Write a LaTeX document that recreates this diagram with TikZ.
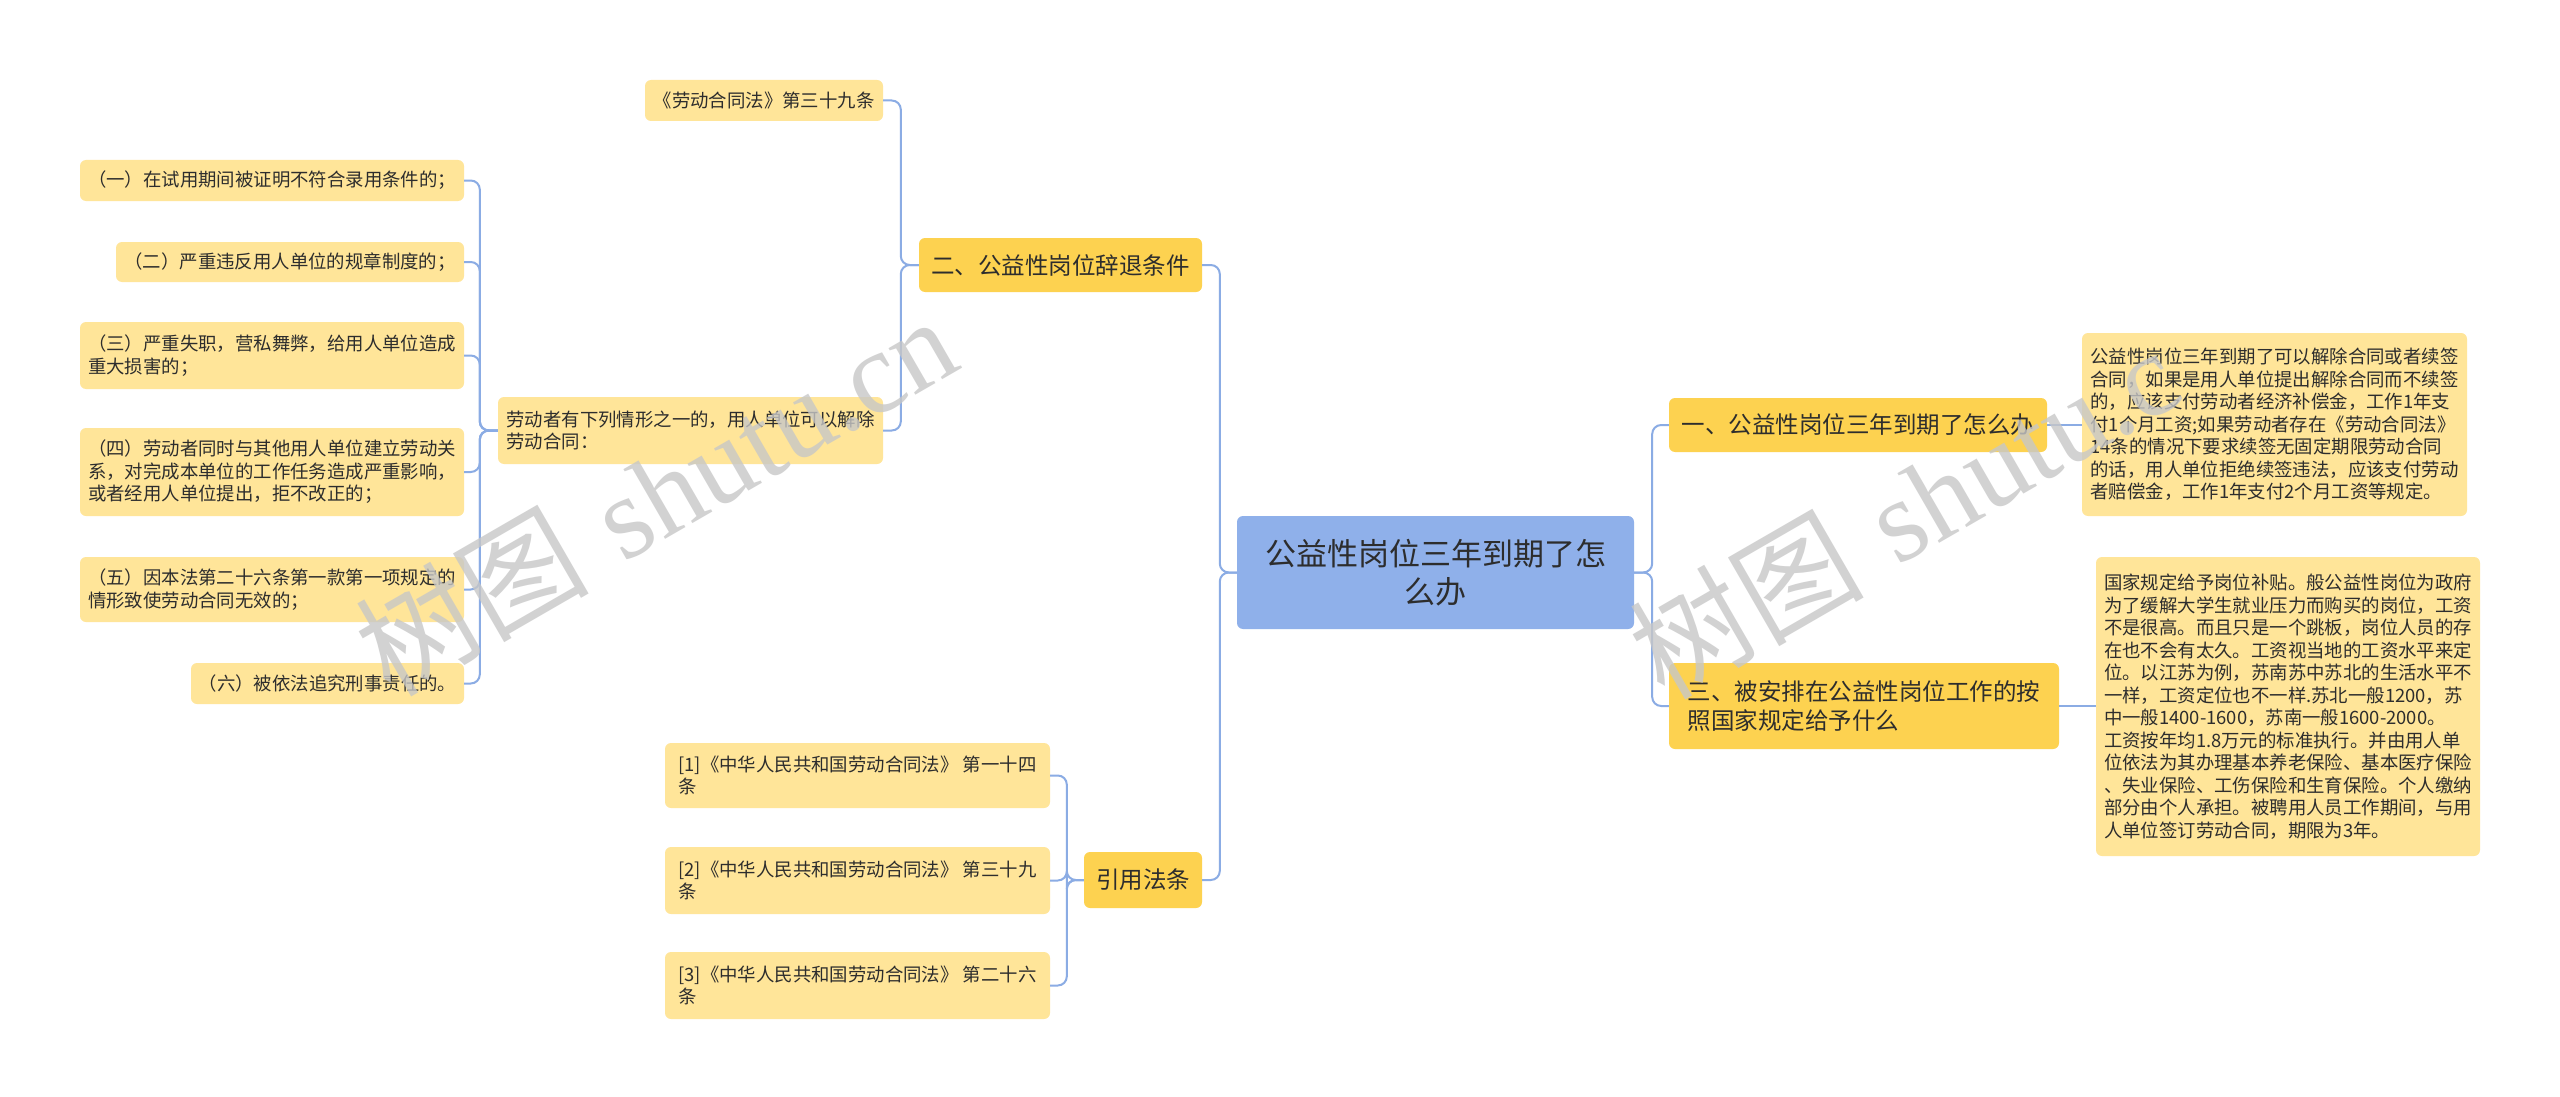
\documentclass[tikz,border=0pt]{standalone}
\usepackage{fontspec}
\newfontfamily\cjk{Noto Sans CJK SC}
\newfontfamily\wmserif{Liberation Serif}
\definecolor{hubblue}{RGB}{143,176,234}
\definecolor{topicyellow}{RGB}{253,210,80}
\definecolor{leafyellow}{RGB}{255,229,153}
\definecolor{linkblue}{RGB}{139,172,228}
\definecolor{inkgray}{RGB}{45,45,45}
\tikzset{
	hub/.style={fill=hubblue, rounded corners=6pt, align=center, inner sep=0pt, text=inkgray, font=\cjk\fontsize{31}{38}\selectfont},
	topic/.style={fill=topicyellow, rounded corners=6pt, align=left, inner sep=0pt, text=inkgray, font=\cjk\fontsize{23.5}{29}\selectfont},
	leaf/.style={fill=leafyellow, rounded corners=6pt, align=left, inner sep=0pt, text=inkgray, font=\cjk\fontsize{18.4}{22.5}\selectfont},
	link/.style={draw=linkblue, line width=2pt, rounded corners=9pt},
	wmtext/.style={text=black!22, text opacity=0.8, rotate=30, inner sep=0pt, font=\fontsize{117}{117}\selectfont}
}

\begin{document}
\begin{tikzpicture}[x=1pt,y=-1pt]
	\useasboundingbox (0,0) rectangle (2560,1097);
		\fill[white] (0,0) rectangle (2560,1097);
		\node[hub, minimum width=397pt, minimum height=113pt] (hub) at (1435.5,572.5) {公益性岗位三年到期了怎\\么办};
		\node[topic, minimum width=283pt, minimum height=54pt] (quit) at (1060.5,265) {二、公益性岗位辞退条件};
		\node[topic, minimum width=118pt, minimum height=56pt] (cite) at (1143,880) {引用法条};
		\node[topic, minimum width=378pt, minimum height=54pt] (due) at (1858,425) {一、公益性岗位三年到期了怎么办};
		\node[topic, minimum width=390pt, minimum height=86pt] (pay) at (1864,706) {三、被安排在公益性岗位工作的按\\照国家规定给予什么};
		\node[leaf, minimum width=385pt, minimum height=183pt] (duenote) at (2274.5,424.5) {公益性岗位三年到期了可以解除合同或者续签\\合同，如果是用人单位提出解除合同而不续签\\的，应该支付劳动者经济补偿金，工作1年支\\付1个月工资;如果劳动者存在《劳动合同法》\\14条的情况下要求续签无固定期限劳动合同\\的话，用人单位拒绝续签违法，应该支付劳动\\者赔偿金，工作1年支付2个月工资等规定。};
		\node[leaf, minimum width=384pt, minimum height=299pt] (paynote) at (2288,706.5) {国家规定给予岗位补贴。般公益性岗位为政府\\为了缓解大学生就业压力而购买的岗位，工资\\不是很高。而且只是一个跳板，岗位人员的存\\在也不会有太久。工资视当地的工资水平来定\\位。以江苏为例，苏南苏中苏北的生活水平不\\一样，工资定位也不一样.苏北一般1200，苏\\中一般1400-1600，苏南一般1600-2000。\\工资按年均1.8万元的标准执行。并由用人单\\位依法为其办理基本养老保险、基本医疗保险\\、失业保险、工伤保险和生育保险。个人缴纳\\部分由个人承担。被聘用人员工作期间，与用\\人单位签订劳动合同，期限为3年。};
		\node[leaf, minimum width=238pt, minimum height=41pt] (law) at (764,100.5) {《劳动合同法》第三十九条};
		\node[leaf, minimum width=385pt, minimum height=67pt] (cases) at (690.5,430.5) {劳动者有下列情形之一的，用人单位可以解除\\劳动合同：};
		\node[leaf, minimum width=384pt, minimum height=41pt] (case1) at (272,180.5) {（一）在试用期间被证明不符合录用条件的；};
		\node[leaf, minimum width=348pt, minimum height=40pt] (case2) at (290,262) {（二）严重违反用人单位的规章制度的；};
		\node[leaf, minimum width=384pt, minimum height=67pt] (case3) at (272,355.5) {（三）严重失职，营私舞弊，给用人单位造成\\重大损害的；};
		\node[leaf, minimum width=384pt, minimum height=88pt] (case4) at (272,472) {（四）劳动者同时与其他用人单位建立劳动关\\系，对完成本单位的工作任务造成严重影响，\\或者经用人单位提出，拒不改正的；};
		\node[leaf, minimum width=384pt, minimum height=65pt] (case5) at (272,589.5) {（五）因本法第二十六条第一款第一项规定的\\情形致使劳动合同无效的；};
		\node[leaf, minimum width=273pt, minimum height=41pt] (case6) at (327.5,683.5) {（六）被依法追究刑事责任的。};
		\node[leaf, minimum width=385pt, minimum height=65pt] (ref1) at (857.5,775.5) {[1]《中华人民共和国劳动合同法》 第一十四\\条};
		\node[leaf, minimum width=385pt, minimum height=67pt] (ref2) at (857.5,880.5) {[2]《中华人民共和国劳动合同法》 第三十九\\条};
		\node[leaf, minimum width=385pt, minimum height=67pt] (ref3) at (857.5,985.5) {[3]《中华人民共和国劳动合同法》 第二十六\\条};
		\draw[link] (hub.west) -- ++(-17,0) |- (quit.east);
		\draw[link] (hub.west) -- ++(-17,0) |- (cite.east);
		\draw[link] (hub.east) -- ++(18,0) |- (due.west);
		\draw[link] (hub.east) -- ++(18,0) |- (pay.west);
		\draw[link] (due.east) -- (duenote.west |- due.east);
		\draw[link] (pay.east) -- (paynote.west |- pay.east);
		\draw[link] (quit.west) -- ++(-18,0) |- (law.east);
		\draw[link] (quit.west) -- ++(-18,0) |- (cases.east);
		\foreach \i in {1,...,6}
			\draw[link] (cases.west) -- ++(-18,0) |- (case\i.east);
		\foreach \i in {1,2,3}
			\draw[link] (cite.west) -- ++(-17,0) |- (ref\i.east);
		\node[wmtext] (wmleft) at (655,494) {{\cjk 树图} {\wmserif shutu.cn}};
		\node[wmtext] (wmright) at (1904,512) {{\cjk 树图} {\wmserif shutu.c}};
	\end{tikzpicture}
\end{document}
